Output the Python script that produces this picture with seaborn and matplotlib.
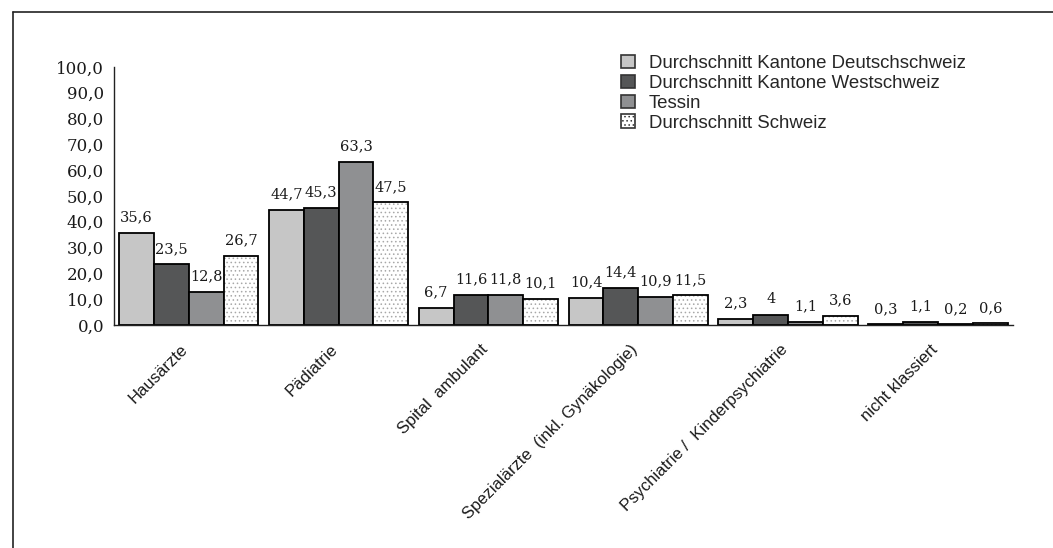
import matplotlib
matplotlib.use("Agg")
import matplotlib.pyplot as plt
import matplotlib.ticker as mticker
from matplotlib.patches import Patch, Rectangle
from matplotlib.lines import Line2D
import seaborn as sns
import pandas as pd

# data
categories = [
    "Hausärzte",
    "Pädiatrie",
    "Spital  ambulant",
    "Spezialärzte  (inkl. Gynäkologie)",
    "Psychiatrie /  Kinderpsychiatrie",
    "nicht klassiert",
]
regions = [
    "Durchschnitt Kantone Deutschschweiz",
    "Durchschnitt Kantone Westschweiz",
    "Tessin",
    "Durchschnitt Schweiz",
]
deutschschweiz = [35.6, 44.7, 6.7, 10.4, 2.3, 0.3]
westschweiz = [23.5, 45.3, 11.6, 14.4, 4.0, 1.1]
tessin = [12.8, 63.3, 11.8, 10.9, 1.1, 0.2]
schweiz = [26.7, 47.5, 10.1, 11.5, 3.6, 0.6]
value_labels = [
    ["35,6", "44,7", "6,7", "10,4", "2,3", "0,3"],
    ["23,5", "45,3", "11,6", "14,4", "4", "1,1"],
    ["12,8", "63,3", "11,8", "10,9", "1,1", "0,2"],
    ["26,7", "47,5", "10,1", "11,5", "3,6", "0,6"],
]
colors = ["#c6c6c6", "#555657", "#8f9092", "#ffffff"]

series = [deutschschweiz, westschweiz, tessin, schweiz]
rows = []
for reg, vals in zip(regions, series):
    for cat, v in zip(categories, vals):
        rows.append({"Kategorie": cat, "Region": reg, "Wert": v})
df = pd.DataFrame(rows)

sns.set_style("white")
plt.rcParams["hatch.linewidth"] = 0.6

fig = plt.figure(figsize=(10.53, 5.48), dpi=100)
ax = fig.add_axes([0.108, 0.407, 0.854, 0.471])

sns.barplot(data=df, x="Kategorie", y="Wert", hue="Region", order=categories,
            hue_order=regions, palette=colors, width=0.93, gap=0,
            edgecolor="black", linewidth=1.3, saturation=1, legend=False, ax=ax)

# dotted fill for the Swiss average, with black outline on top
for p in ax.containers[3].patches:
    p.set_hatch("....")
    p.set_edgecolor("#a8a8a8")
    p.set_linewidth(0)
    ax.add_patch(Rectangle(p.get_xy(), p.get_width(), p.get_height(),
                           fill=False, edgecolor="black", linewidth=1.3, zorder=3))

serif = ["DejaVu Serif"]
sans = ["Liberation Sans", "DejaVu Sans"]

for cont, labs in zip(ax.containers, value_labels):
    ax.bar_label(cont, labels=labs, padding=6, fontsize=10.5, family=serif,
                 color="#1a1a1a")

ax.set_ylim(0, 100)
ax.set_xlim(-0.5, len(categories) - 0.5)
ax.yaxis.set_major_locator(mticker.MultipleLocator(10))
ax.yaxis.set_major_formatter(mticker.FuncFormatter(lambda v, _: f"{v:.1f}".replace(".", ",")))
for lab in ax.get_yticklabels():
    lab.set_family(serif)
    lab.set_fontsize(12)
    lab.set_color("#1a1a1a")

# category labels sit a little left of the group centre, as in the original
ax.set_xticks([i - 0.055 for i in range(len(categories))])
ax.set_xticklabels(categories, rotation=45, ha="right", rotation_mode="anchor",
                   family=sans, fontsize=12, color="#1a1a1a")
ax.set_xticks([i - 0.5 for i in range(len(categories) + 1)], minor=True)
ax.tick_params(axis="x", which="major", length=0, pad=12)
ax.tick_params(axis="x", which="minor", length=5, width=1, color="#222222", direction="out")
ax.tick_params(axis="y", length=5, width=1, color="#222222", direction="out", pad=2)
ax.set_xlabel("")
ax.set_ylabel("")

sns.despine(ax=ax)
for s in ["left", "bottom"]:
    ax.spines[s].set_color("#222222")
    ax.spines[s].set_linewidth(1)

handles = [Patch(facecolor=c, edgecolor="#333333", linewidth=1.2,
                 hatch="...." if c == "#ffffff" else None) for c in colors]
ax.legend(handles, regions, loc="upper left", bbox_to_anchor=(0.556, 1.076),
          frameon=False, prop={"family": sans, "size": 13.4},
          handlelength=0.75, handleheight=0.75, handletextpad=0.75,
          labelspacing=0.14, borderaxespad=0)

# outer frame (top and left lines)
fig.add_artist(Line2D([0.0123, 1.0], [0.978, 0.978], color="#222222", lw=1.2))
fig.add_artist(Line2D([0.0123, 0.0123], [0.0, 0.978], color="#222222", lw=1.2))

fig.savefig("out.png", dpi=100)
